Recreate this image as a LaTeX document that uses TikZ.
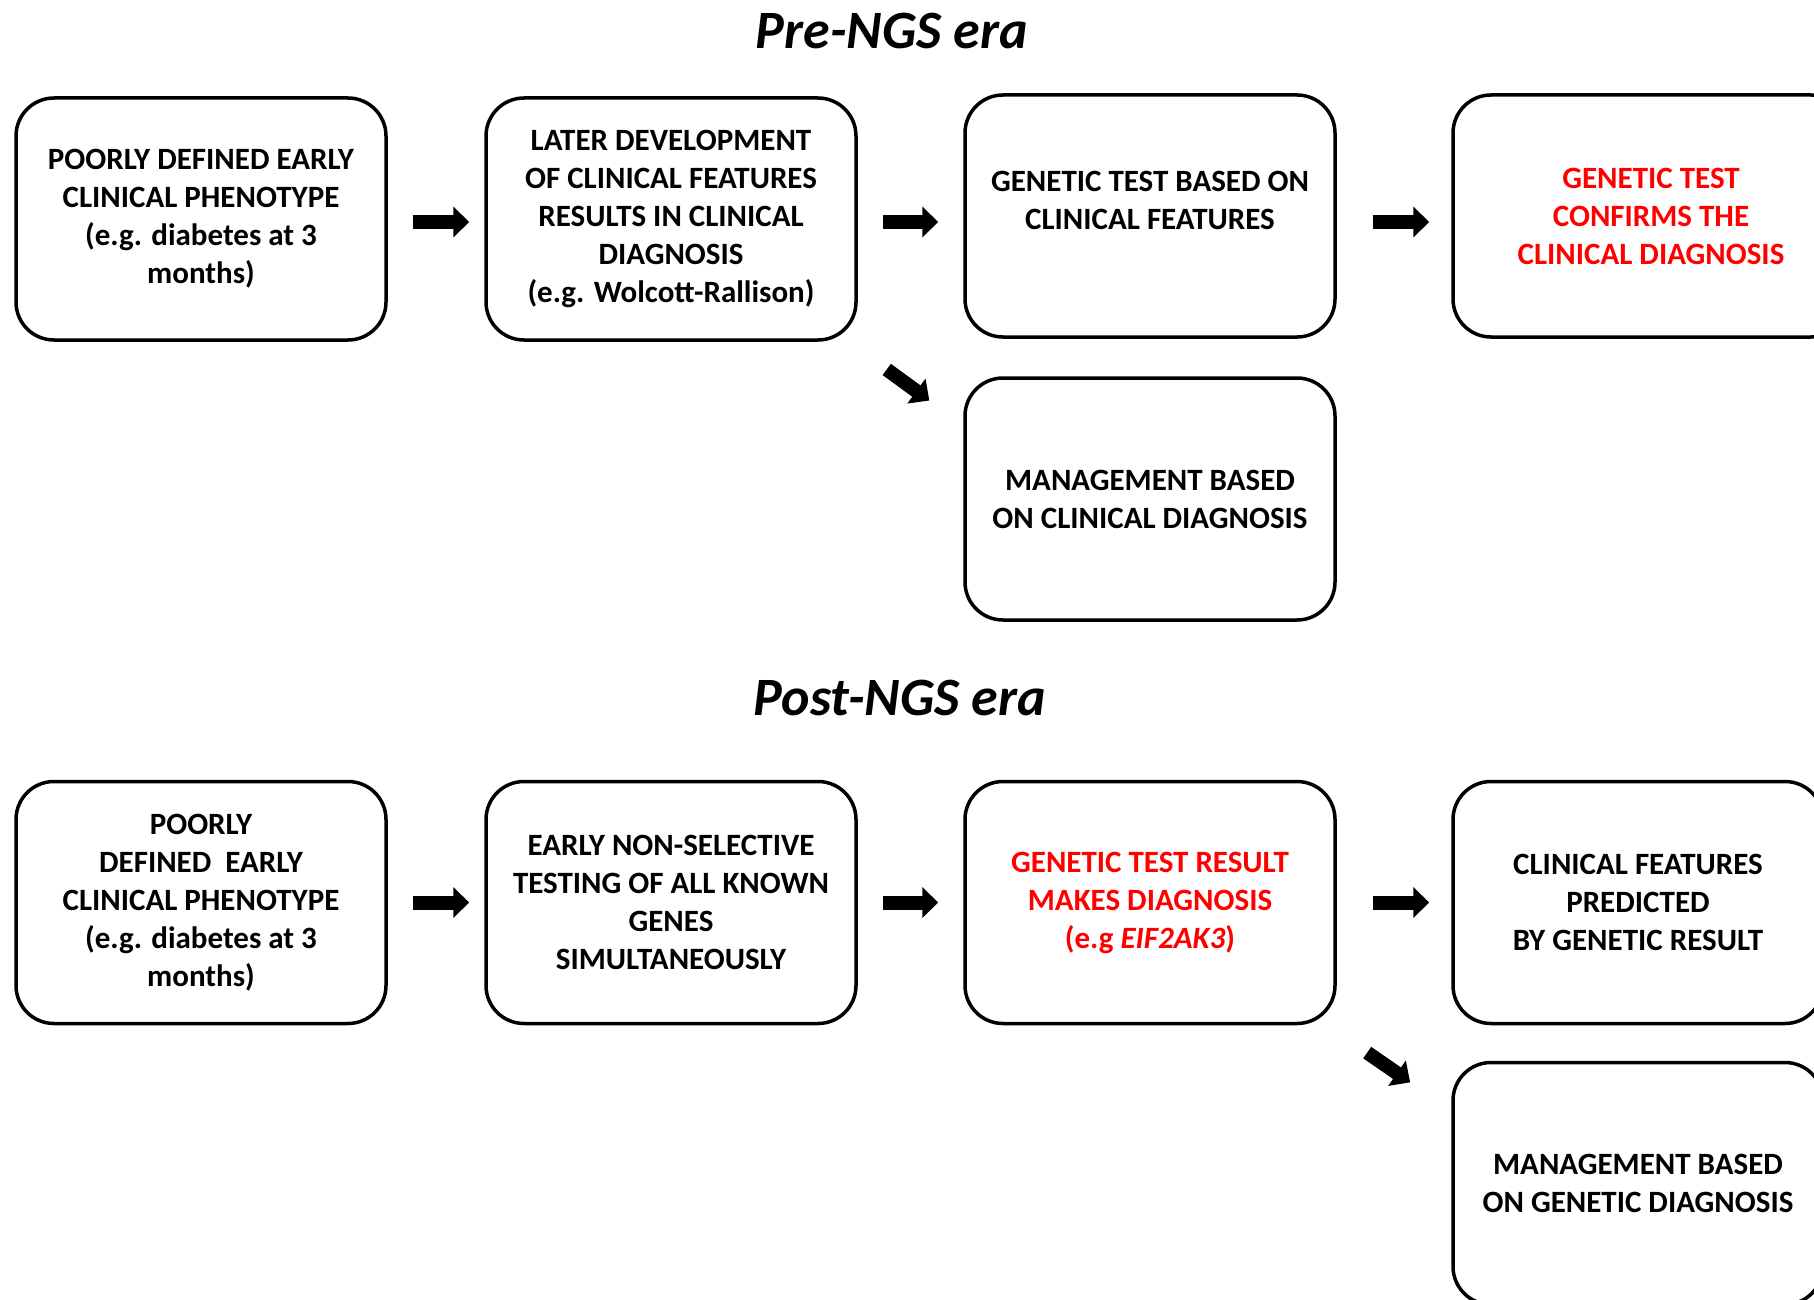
\documentclass[tikz,border=0pt]{standalone}
\usepackage{fontspec}
\setmainfont{Carlito}
\usetikzlibrary{arrows.meta,positioning}

\begin{document}
\begin{tikzpicture}[x=1pt, y=-1pt,
  stage/.style={draw, line width=3.5pt, rounded corners=38pt, minimum width=370pt, minimum height=242pt,
    align=center, inner sep=0pt, font=\fontsize{31}{38}\selectfont\bfseries},
  era/.style={anchor=base, font=\fontsize{54}{60}\selectfont\bfseries\itshape},
  blockarrow/.style={line width=14pt, -{Triangle[length=16pt,width=30pt]}}]
  \useasboundingbox (0,0) rectangle (1814,1300);
  \clip (0,0) rectangle (1814,1300);
  \fill[white] (0,0) rectangle (1814,1300);

  % pre-NGS row
  \node[era] (pretitle) at (892,49) {Pre-NGS era};
  \node[stage] (pre1) at (201,219) {POORLY DEFINED EARLY\\CLINICAL PHENOTYPE\\(e.g. diabetes at 3\\months)};
  \node[stage, right=96.5pt of pre1] (pre2) {LATER DEVELOPMENT\\OF CLINICAL FEATURES\\RESULTS IN CLINICAL\\DIAGNOSIS\\(e.g. Wolcott-Rallison)};
  \node[stage, right=105.5pt of pre2, yshift=3pt] (pre3) {GENETIC TEST BASED ON\\CLINICAL FEATURES\\[-18pt]\strut};
  \node[stage, text=red, minimum width=396pt, right=114.5pt of pre3] (pre4) {GENETIC TEST\\CONFIRMS THE\\CLINICAL DIAGNOSIS};
  \node[stage, below=37.5pt of pre3] (pre5) {MANAGEMENT BASED\\ON CLINICAL DIAGNOSIS};

  % post-NGS row
  \node[era] (posttitle) at (900,715) {Post-NGS era};
  \node[stage] (post1) at (201,902.5) {POORLY\\DEFINED\ \ EARLY\\CLINICAL PHENOTYPE\\(e.g. diabetes at 3\\months)};
  \node[stage, right=96.5pt of post1] (post2) {EARLY NON-SELECTIVE\\TESTING OF ALL KNOWN\\GENES\\SIMULTANEOUSLY};
  \node[stage, text=red, right=105.5pt of post2] (post3) {GENETIC TEST RESULT\\MAKES DIAGNOSIS\\(e.g \textit{EIF2AK3})};
  \node[stage, right=114.5pt of post3] (post4) {CLINICAL FEATURES\\PREDICTED\\BY GENETIC RESULT};
  \node[stage, below=35.5pt of post4] (post5) {MANAGEMENT BASED\\ON GENETIC DIAGNOSIS};

  % arrows
  \draw[blockarrow, shorten <=25pt, shorten >=15pt] ([yshift=-3pt]pre1.east) -- ([yshift=-3pt]pre2.west);
  \draw[blockarrow, shorten <=25pt, shorten >=25pt] ([yshift=-3pt]pre2.east) -- ([yshift=-6pt]pre3.west);
  \draw[blockarrow, shorten <=36pt, shorten >=22pt] ([yshift=-6pt]pre3.east) -- ([yshift=-6pt]pre4.west);
  \draw[blockarrow, shorten <=47pt, shorten >=42pt] ([xshift=-9pt]pre2.south east) -- ([yshift=-49pt]pre5.north west);

  \draw[blockarrow, shorten <=25pt, shorten >=15pt] (post1.east) -- (post2.west);
  \draw[blockarrow, shorten <=25pt, shorten >=25pt] (post2.east) -- (post3.west);
  \draw[blockarrow, shorten <=36pt, shorten >=22pt] (post3.east) -- (post4.west);
  \draw[blockarrow, shorten <=48pt, shorten >=50pt] ([xshift=-9pt]post3.south east) -- ([yshift=-50pt]post5.north west);
\end{tikzpicture}
\end{document}
